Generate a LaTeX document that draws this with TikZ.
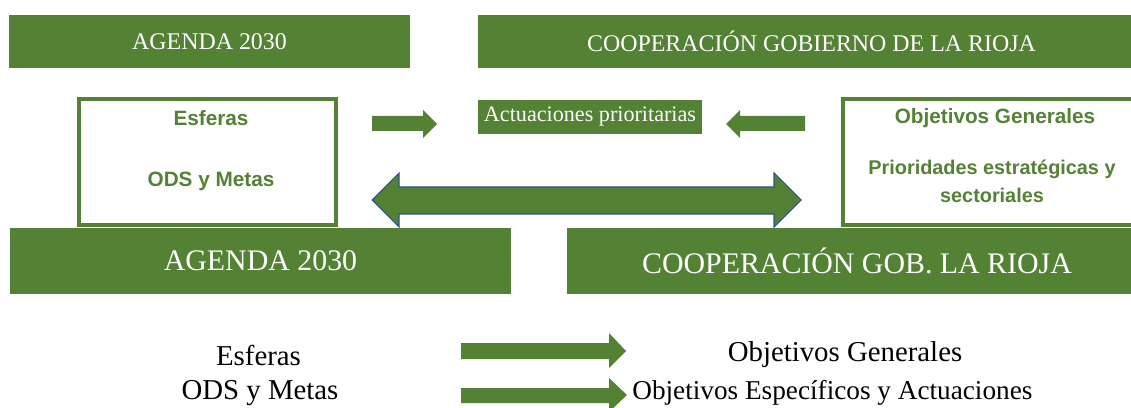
\documentclass[tikz,border=0pt]{standalone}
\usepackage{fontspec}
\setmainfont{Liberation Serif}
\newfontfamily\arialfont{Liberation Sans}
\definecolor{ogreen}{RGB}{84,130,53}
\definecolor{oblue}{RGB}{47,82,143}
\tikzset{
  bar/.style={fill=ogreen, draw=none, inner sep=0pt, text=white, align=center},
  outbox/.style={draw=ogreen, line width=2.3pt, fill=white, inner sep=0pt},
  boxtxt/.style={text=ogreen, font=\arialfont\bfseries\fontsize{11.8}{14}\selectfont, align=center, inner sep=0pt},
  plain/.style={text=black, font=\fontsize{16.4}{19}\selectfont, inner sep=0pt},
  blockarrow/.style={fill=ogreen, draw=none},
}
\begin{document}
\begin{tikzpicture}[x=0.02cm,y=-0.02cm]
\useasboundingbox (0,0) rectangle (1131,408);
% top bars
\node[bar, minimum width=401*0.02cm, minimum height=53*0.02cm, font=\fontsize{13.6}{16}\selectfont] (topL) at (209.5,41.5) {AGENDA 2030};
\node[bar, minimum width=660*0.02cm, minimum height=53*0.02cm, anchor=west, font=\fontsize{13.6}{16}\selectfont] (topR) at (478,41.5) {};
\node[text=white, inner sep=0pt, font=\fontsize{13.6}{16}\selectfont] (topRt) at (811.5,41.5) {COOPERACIÓN GOBIERNO DE LA RIOJA};
% outlined boxes
\draw[outbox] (79,99) rectangle (336,225);
\node[boxtxt] (esf) at (211,118) {Esferas};
\node[boxtxt] (ods) at (211,181) {ODS y Metas};
\draw[outbox] (843,99) rectangle (1140,225);
\node[boxtxt] (obj) at (995,118) {Objetivos Generales};
\node[boxtxt, font=\arialfont\bfseries\fontsize{11.3}{14}\selectfont] (prio) at (992,181) {Prioridades estratégicas y\\[2pt]sectoriales};
% actuaciones
\node[bar, minimum width=224*0.02cm, minimum height=34*0.02cm, font=\fontsize{12.6}{15}\selectfont] (act) at (590,117) {Actuaciones prioritarias};
% small arrows
\fill[blockarrow] (372,116) -- (423,116) -- (423,110) -- (437,124) -- (423,138) -- (423,131) -- (372,131) -- cycle;
\fill[blockarrow] (805,116) -- (740,116) -- (740,110) -- (726,124) -- (740,138) -- (740,131) -- (805,131) -- cycle;
% double arrow
\draw[fill=ogreen, draw=oblue, line width=0.6pt] (372,200) -- (399,173) -- (399,187) -- (774,187) -- (774,173) -- (801,200) -- (774,227) -- (774,214) -- (399,214) -- (399,227) -- cycle;
% bottom bars
\node[bar, minimum width=501*0.02cm, minimum height=66*0.02cm, font=\fontsize{17}{20}\selectfont] (botL) at (260.5,261) {AGENDA 2030};
\node[bar, minimum width=570*0.02cm, minimum height=66*0.02cm, anchor=west] (botR) at (567,261) {};
\node[text=white, inner sep=0pt, font=\fontsize{17}{20}\selectfont] (botRt) at (857,261) {COOPERACIÓN GOB. LA RIOJA};
% bottom texts
\node[plain] (e1) at (258.5,355) {Esferas};
\node[plain] (e2) at (260,393) {ODS y Metas};
\node[plain] (o1) at (845,355) {Objetivos Generales};
\node[plain, anchor=west, font=\fontsize{15.5}{18}\selectfont] (o2) at (632,393) {Objetivos Específicos y Actuaciones};
% bottom arrows
\fill[blockarrow] (461,343) -- (609,343) -- (609,333) -- (626,351) -- (609,368) -- (609,359) -- (461,359) -- cycle;
\fill[blockarrow] (461,388) -- (609,388) -- (609,378) -- (627,395) -- (609,412) -- (609,403) -- (461,403) -- cycle;
\end{tikzpicture}
\end{document}
